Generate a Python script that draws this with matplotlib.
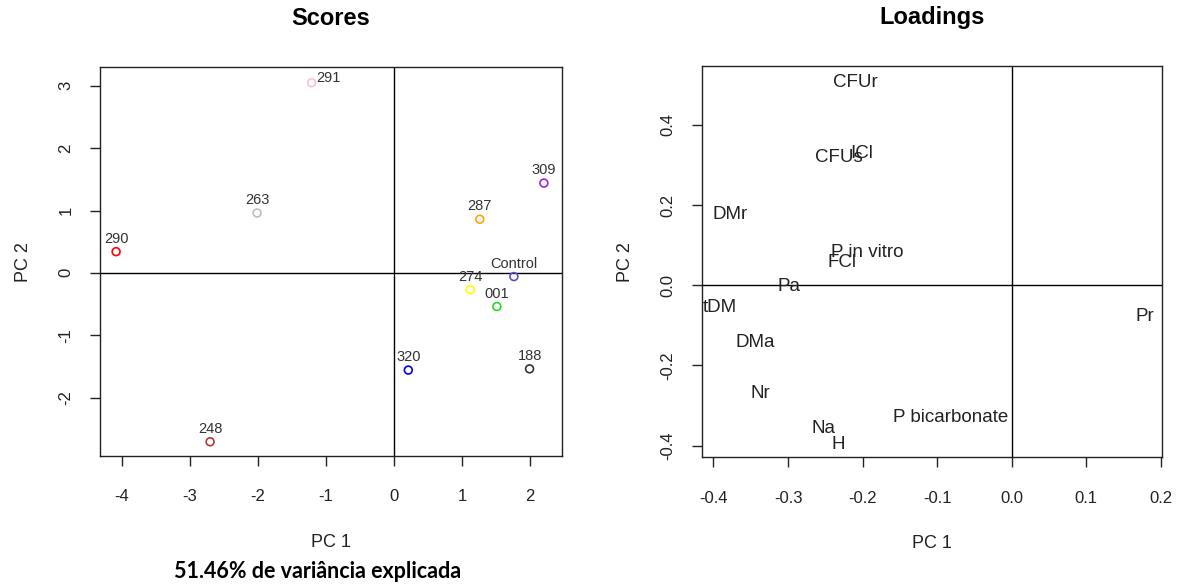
import numpy as np
import matplotlib
matplotlib.use("Agg")
import matplotlib.pyplot as plt

plt.rcParams['font.family'] = ['Liberation Sans', 'DejaVu Sans']

# Scores (PC1, PC2) por isolado
amostras = ["291", "309", "263", "287", "290", "Control", "274", "001", "320", "188", "248"]
pc1_scores = [-1.21, 2.20, -2.01, 1.26, -4.08, 1.76, 1.12, 1.51, 0.21, 1.99, -2.70]
pc2_scores = [3.05, 1.44, 0.96, 0.86, 0.34, -0.06, -0.27, -0.54, -1.56, -1.54, -2.71]
cores = ["pink", "#A020F0", "#BEBEBE", "orange", "red", "#5A4FC8", "yellow",
         "#22DD22", "blue", "#333333", "#B03A3A"]

# Loadings
variaveis = ["CFUr", "CFUs", "ICl", "DMr", "P in vitro", "FCl", "Pa", "tDM", "DMa",
             "Nr", "Na", "H", "P bicarbonate", "Pr"]
pc1_load = [-0.210, -0.232, -0.201, -0.378, -0.193, -0.228, -0.298, -0.392, -0.344,
            -0.337, -0.252, -0.233, -0.082, 0.179]
pc2_load = [0.505, 0.319, 0.329, 0.177, 0.082, 0.057, -0.002, -0.055, -0.142,
            -0.271, -0.358, -0.397, -0.329, -0.077]

fig = plt.figure(figsize=(11.78, 5.84), dpi=100)
ax1 = fig.add_axes([0.0849, 0.219, 0.392, 0.666])
ax2 = fig.add_axes([0.596, 0.217, 0.3905, 0.670])

def estilo_r(ax):
    for s in ax.spines.values():
        s.set_linewidth(1.0)
        s.set_color("#222222")
    ax.tick_params(direction="out", length=7, width=1, labelsize=12,
                   colors="#222222")
    ax.tick_params(axis="x", pad=17)
    ax.tick_params(axis="y", pad=12)
    for lab in ax.get_yticklabels():
        lab.set_rotation(90)
        lab.set_va("center")
    ax.set_xlabel("PC 1", fontsize=13, labelpad=21, color="#222222")
    ax.set_ylabel("PC 2", fontsize=13, labelpad=19, color="#222222")

# --- Scores
ax1.scatter(pc1_scores, pc2_scores, s=32, facecolors="none", edgecolors=cores,
            linewidths=1.2, zorder=3)
desloc = {"291": (17, 5)}
for nome, x, y in zip(amostras, pc1_scores, pc2_scores):
    dx, dy = desloc.get(nome, (0, 13))
    ax1.annotate(nome, (x, y), xytext=(dx, dy), textcoords="offset pixels",
                 ha="center", va="center", fontsize=10.5, color="#333333")
ax1.axhline(0, color="black", lw=1)
ax1.axvline(0, color="black", lw=1)
ax1.set_xlim(-4.316, 2.463)
ax1.set_ylim(-2.94, 3.30)
ax1.set_xticks([-4, -3, -2, -1, 0, 1, 2])
ax1.set_yticks([-2, -1, 0, 1, 2, 3])
ax1.set_xticklabels(["-4", "-3", "-2", "-1", "0", "1", "2"])
ax1.set_yticklabels(["-2", "-1", "0", "1", "2", "3"])
estilo_r(ax1)
ax1.set_title("Scores", fontsize=17, fontweight="bold", pad=30)

# --- Loadings
for nome, x, y in zip(variaveis, pc1_load, pc2_load):
    ax2.text(x, y, nome, ha="center", va="center", fontsize=13.5, color="#222222",
             clip_on=True)
ax2.axhline(0, color="black", lw=1)
ax2.axvline(0, color="black", lw=1)
ax2.set_xlim(-0.4153, 0.202)
ax2.set_ylim(-0.429, 0.547)
ax2.set_xticks([-0.4, -0.3, -0.2, -0.1, 0.0, 0.1, 0.2])
ax2.set_yticks([-0.4, -0.2, 0.0, 0.2, 0.4])
ax2.set_xticklabels(["-0.4", "-0.3", "-0.2", "-0.1", "0.0", "0.1", "0.2"])
ax2.set_yticklabels(["-0.4", "-0.2", "0.0", "0.2", "0.4"])
estilo_r(ax2)
ax2.set_title("Loadings", fontsize=17, fontweight="bold", pad=30)

fig.text(0.27, 0.004, "51.46% de variância explicada", ha="center", va="bottom",
         fontsize=15.5, fontweight="bold", family=["Lato", "DejaVu Sans"])

fig.savefig("out.png", dpi=100)
